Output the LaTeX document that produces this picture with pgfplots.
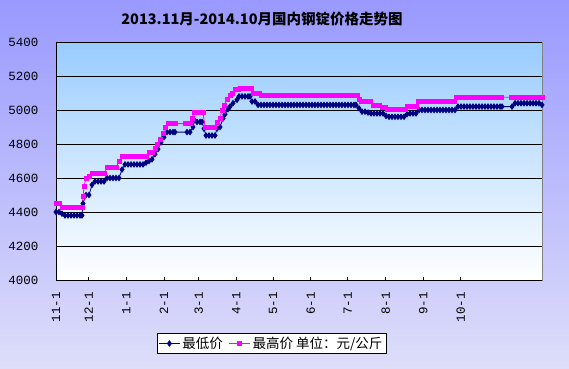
\documentclass[border=0pt]{standalone}
\usepackage{pgfplots}
\pgfplotsset{compat=1.18}
\usepackage{fontspec}
\setmainfont{Liberation Serif}
\newfontfamily\monof{Liberation Mono}
\newfontfamily\cjk{Noto Sans CJK SC}
\newcommand\tf{\monof\fontsize{12.5}{14}\selectfont}
\definecolor{navyc}{RGB}{0,0,128}
\definecolor{mag}{RGB}{255,0,255}
\definecolor{bgtop}{RGB}{153,153,255}
\definecolor{bgbot}{RGB}{222,222,250}
\definecolor{patop}{RGB}{153,204,255}
\begin{document}
\begin{tikzpicture}
\shade[top color=bgtop,bottom color=bgbot] (0pt,0pt) rectangle (569pt,368pt);
\node[font=\cjk\bfseries\fontsize{14.5}{16}\selectfont] at (262pt,349pt) {2013.11月-2014.10月国内钢锭价格走势图};
\begin{axis}[at={(56pt,88pt)}, anchor=south west, width=486pt, height=238pt, scale only axis,
  xmin=0, xmax=486, ymin=4000, ymax=5400,
  axis background/.style={shade, top color=patop, bottom color=white, draw=gray},
  axis lines=left, axis line style={-, black, line width=0.8pt},
  ymajorgrids, grid style={black, line width=0.7pt},
  ytick={4000,4200,...,5400},
  ytick style={draw=none},
  yticklabel={\tf\pgfmathprintnumber[assume math mode=true,1000 sep={}]{\tick}},
  yticklabel style={anchor=east, inner sep=0pt},
  yticklabel shift=16pt,
  xtick={0,32.7,70.3,108,142.7,180.3,217,254.7,291.7,329.7,367.3,404.7},
  xticklabels={{\tf 11-1},{\tf 12-1},{\tf 1-1},{\tf 2-1},{\tf 3-1},{\tf 4-1},{\tf 5-1},{\tf 6-1},{\tf 7-1},{\tf 8-1},{\tf 9-1},{\tf 10-1}},
  xtick align=inside, major tick length=3pt, xtick style={black, line width=0.6pt},
  xticklabel style={rotate=90, anchor=east, inner sep=0pt},
  xticklabel shift=12pt,
  legend style={at={(0.4434,-0.2668)}, anchor=center, draw=black, fill=white,
    font=\cjk\fontsize{13.5}{15}\selectfont, inner sep=1.5pt,
    /tikz/every even column/.append style={column sep=4pt}},
  legend columns=2,
  legend image code/.code={\draw[mark repeat=2,mark phase=2,#1] plot coordinates {(0pt,0pt) (10.5pt,0pt) (21pt,0pt)};},
]
\addplot[color=navyc, line width=0.8pt, mark=diamond*, mark size=2.7pt, mark options={solid}] coordinates {
(0,4400) (3,4400) (6,4390) (9,4380) (12,4380) (15,4380) (18,4380) (21,4380) (24,4380) (26,4380)
(27,4450) (30,4500) (33,4500) (36,4560) (39,4580) (42,4580) (45,4580) (48,4580)
(51,4600) (54,4600) (57,4600) (60,4600) (63,4600) (66,4650)
(69,4680) (72,4680) (75,4680) (78,4680) (81,4680) (84,4680) (87,4680)
(90,4690) (93,4700) (96,4710) (99,4740) (102,4770) (105,4810) (108,4840) (111,4870) (114,4870) (117,4870) (119,4870)
(131,4870) (134,4870) (137,4900) (138.5,4940) (141,4930) (144,4930) (146,4930) (148,4890)
(150,4850) (153,4850) (156,4850) (159,4850) (161,4890) (164,4900) (167,4950) (169,4975) (172,5005) (174,5020) (177,5040) (181,5060)
(183,5080) (186,5080) (189,5080) (192,5080) (194,5080) (196,5050) (199,5050)
(202,5030) (205,5030) (208,5030) (211,5030) (214,5030) (217,5030) (220,5030) (223,5030) (226,5030) (229,5030) (232,5030) (235,5030) (238,5030) (241,5030) (244,5030) (247,5030) (250,5030) (253,5030) (256,5030) (259,5030) (262,5030) (265,5030) (268,5030) (271,5030) (274,5030) (277,5030) (280,5030) (283,5030) (286,5030) (289,5030) (292,5030) (295,5030) (298,5030) (300,5030)
(303,5010) (306,4990) (309,4990) (312,4985)
(315,4980) (318,4980) (321,4980) (324,4980) (327,4980) (330,4965)
(333,4960) (336,4960) (339,4960) (342,4960) (345,4960) (348,4960) (351,4975)
(354,4980) (357,4980) (360,4980)
(363,5000) (366,5000) (369,5000) (372,5000) (375,5000) (378,5000) (381,5000) (384,5000) (387,5000) (390,5000) (393,5000) (396,5000) (399,5000)
(402,5020) (405,5020) (408,5020) (411,5020) (414,5020) (417,5020) (420,5020) (423,5020) (426,5020) (429,5020) (432,5020) (435,5020) (438,5020) (441,5020) (444,5020) (446,5020)
(456,5020) (459,5040) (462,5040) (465,5040) (468,5040) (471,5040) (474,5040) (477,5040) (480,5040) (483,5040) (486,5030)
};
\addlegendentry{最低价}
\addplot[color=mag, line width=0.8pt, mark=square*, mark size=2pt, mark options={solid}] coordinates {
(0,4450) (3,4450) (6,4430) (9,4430) (12,4430) (15,4430) (18,4430) (21,4430) (24,4430) (26,4430)
(27,4490) (28,4550) (30,4600) (33,4610) (36,4630) (39,4630) (42,4630) (45,4630) (48,4630)
(51,4660) (54,4660) (57,4660) (60,4660) (63,4700)
(66,4730) (69,4730) (72,4730) (75,4730) (78,4730) (81,4730) (84,4730) (87,4730) (90,4730)
(93,4750) (96,4750) (99,4775) (101,4800) (104,4830) (107,4860) (109,4895) (112,4920) (115,4920) (118,4920) (119,4920)
(129,4920) (132,4920) (134,4920) (136,4950) (138,4985) (141,4985) (144,4985) (147,4985)
(149,4900) (152,4900) (155,4900) (158,4900) (161,4930) (164,4950) (166,5000) (168,5030) (171,5060) (174,5085) (176,5100) (179,5120) (182,5120)
(184,5130) (187,5130) (190,5130) (193,5130) (195,5130) (197,5100) (200,5100) (203,5100)
(205,5085) (208,5085) (211,5085) (214,5085) (217,5085) (220,5085) (223,5085) (226,5085) (229,5085) (232,5085) (235,5085) (238,5085) (241,5085) (244,5085) (247,5085) (250,5085) (253,5085) (256,5085) (259,5085) (262,5085) (265,5085) (268,5085) (271,5085) (274,5085) (277,5085) (280,5085) (283,5085) (286,5085) (289,5085) (292,5085) (295,5085) (298,5085) (301,5085)
(303,5060) (305,5050) (308,5050) (311,5050) (314,5050) (317,5030) (320,5030) (323,5030) (326,5015) (329,5015)
(331,5005) (334,5005) (337,5005) (340,5005) (343,5005) (346,5005) (349,5005)
(351,5020) (354,5020) (357,5020) (360,5020)
(362,5050) (365,5050) (368,5050) (371,5050) (374,5050) (377,5050) (380,5050) (383,5050) (386,5050) (389,5050) (392,5050) (395,5050) (398,5050)
(400,5075) (403,5075) (406,5075) (409,5075) (412,5075) (415,5075) (418,5075) (421,5075) (424,5075) (427,5075) (430,5075) (433,5075) (436,5075) (439,5075) (442,5075) (445,5075)
(455,5075) (458,5075) (461,5075) (464,5075) (467,5075) (470,5075) (473,5075) (476,5075) (479,5075) (482,5075) (485,5075) (486,5075)
};
\addlegendentry{最高价 单位：元/公斤}
\end{axis}
\pgfresetboundingbox
\path (0pt,0pt) rectangle (569pt,368pt);
\end{tikzpicture}
\end{document}
